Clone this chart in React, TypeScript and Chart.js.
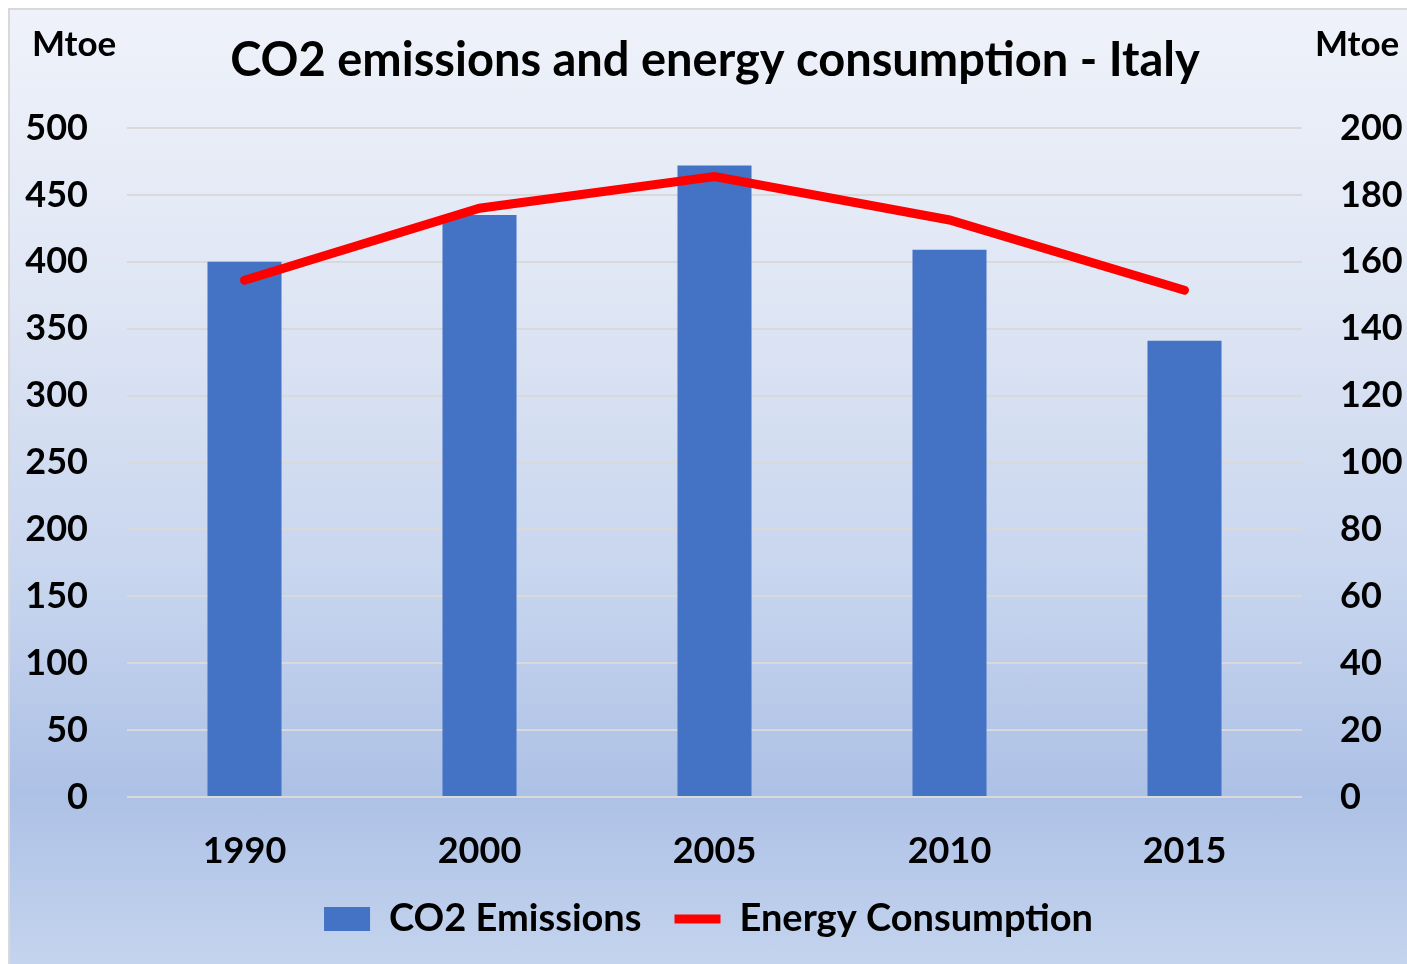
import React, { useEffect, useRef } from "react";
import { Chart, registerables } from "chart.js";

Chart.register(...registerables);

const categories = ["1990", "2000", "2005", "2010", "2015"];
const co2Emissions = [400, 435, 472, 409, 341];
const energyConsumption = [154.5, 176, 185.5, 172.5, 151.5];
const titleText = "CO2 emissions and energy consumption - Italy";
const unitLabel = "Mtoe";

const FONT = 'Lato, "Open Sans", sans-serif';

const textPlugin = {
  id: "extraText",
  afterDraw(chart: any) {
    const ctx = chart.ctx;
    ctx.save();
    ctx.fillStyle = "#000";
    ctx.textBaseline = "alphabetic";
    ctx.font = `bold 47px ${FONT}`;
    ctx.textAlign = "center";
    ctx.fillText(titleText, 705, 66);
    ctx.font = `bold 35px ${FONT}`;
    ctx.textAlign = "left";
    ctx.fillText(unitLabel, 22, 46);
    ctx.fillText(unitLabel, 1305, 46);
    ctx.restore();
  },
};

export default function App() {
  const ref = useRef<HTMLCanvasElement | null>(null);
  useEffect(() => {
    if (!ref.current) return;
    const chart = new Chart(ref.current, {
      data: {
        labels: categories,
        datasets: [
          {
            type: "line",
            label: "Energy Consumption",
            data: energyConsumption,
            yAxisID: "y1",
            borderColor: "#ff0000",
            backgroundColor: "#ff0000",
            borderWidth: 9,
            borderCapStyle: "round",
            borderJoinStyle: "miter",
            pointRadius: 0,
            pointStyle: "line",
            tension: 0,
            order: 0,
          } as any,
          {
            type: "bar",
            label: "CO2 Emissions",
            data: co2Emissions,
            yAxisID: "y",
            backgroundColor: "#4472c4",
            borderWidth: 0,
            categoryPercentage: 1,
            barPercentage: 0.315,
            pointStyle: "rect",
            order: 1,
          } as any,
        ],
      },
      options: {
        animation: false,
        responsive: false,
        maintainAspectRatio: false,
        layout: { padding: { left: 0, right: 0, top: 118, bottom: 16 } },
        plugins: {
          title: { display: false },
          tooltip: { enabled: false },
          legend: {
            display: true,
            position: "bottom",
            reverse: true,
            labels: {
              usePointStyle: true,
              pointStyleWidth: 46,
              boxHeight: 24,
              padding: 33,
              color: "#000",
              font: { family: FONT, size: 38, weight: "bold" },
            },
          },
        },
        scales: {
          x: {
            grid: { display: false, drawTicks: false },
            border: { display: false },
            ticks: {
              color: "#000",
              padding: 33,
              font: { family: FONT, size: 36, weight: "bold" },
            },
            afterFit(scale: any) {
              scale.height = 70;
            },
          },
          y: {
            position: "left",
            min: 0,
            max: 500,
            grid: { color: "#d9d9d9", lineWidth: 2, drawTicks: false },
            border: { display: false },
            ticks: {
              stepSize: 50,
              color: "#000",
              padding: 39,
              font: { family: FONT, size: 36, weight: "bold" },
            },
            afterFit(scale: any) {
              scale.width = 117;
            },
          },
          y1: {
            position: "right",
            min: 0,
            max: 200,
            grid: { display: false, drawTicks: false },
            border: { display: false },
            ticks: {
              stepSize: 20,
              color: "#000",
              padding: 38,
              font: { family: FONT, size: 36, weight: "bold" },
            },
            afterFit(scale: any) {
              scale.width = 105;
            },
          },
        },
      } as any,
      plugins: [textPlugin],
    });
    return () => chart.destroy();
  }, []);

  return (
    <div
      style={{
        position: "fixed",
        left: 8,
        top: 8,
        width: 1397,
        height: 954,
        borderLeft: "2px solid #d9d9d9",
        borderTop: "2px solid #d9d9d9",
        background:
          "linear-gradient(to bottom, #eff2fa 0%, #dfe6f4 30%, #c7d5ee 60%, #adc1e6 82%, #c4d4ee 100%)",
      }}
    >
      <canvas ref={ref} width={1397} height={954} style={{ display: "block" }} />
    </div>
  );
}
